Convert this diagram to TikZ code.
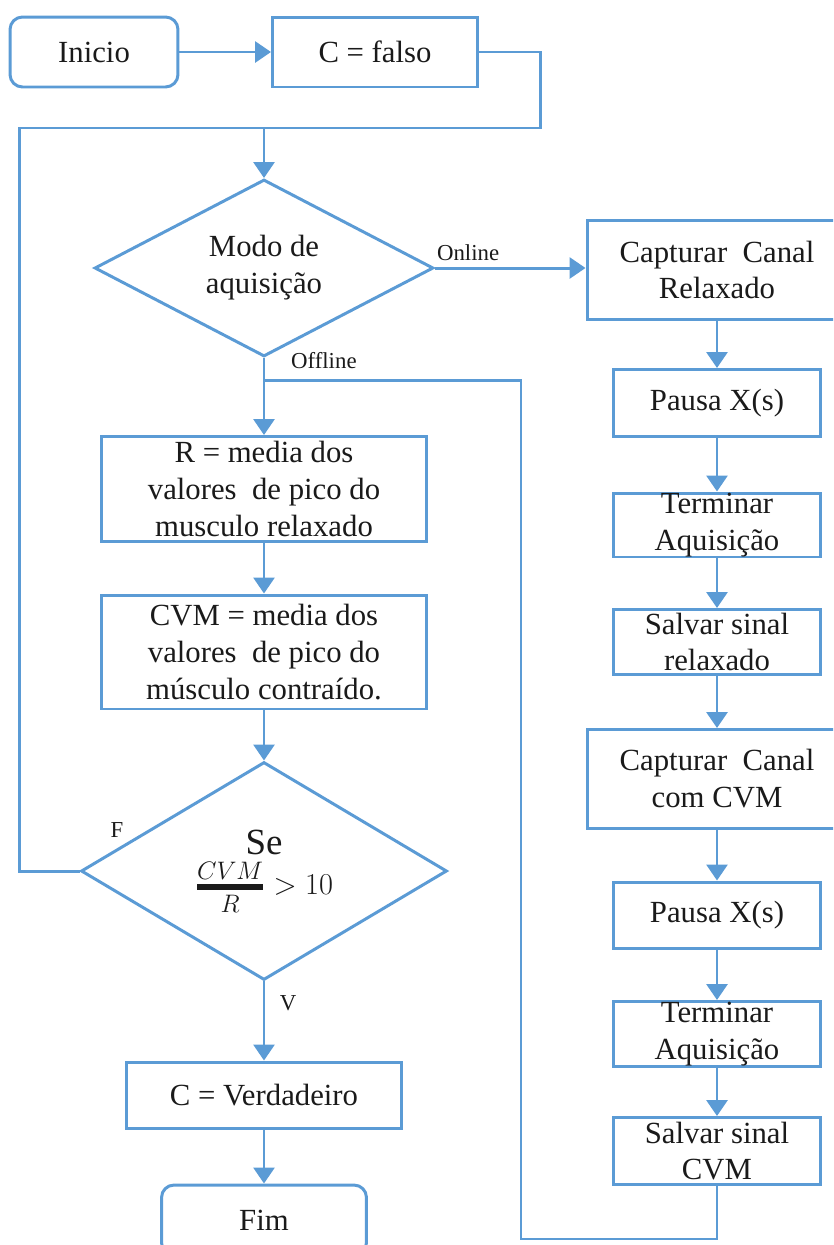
\documentclass[tikz,border=0pt]{standalone}
\usepackage{amsmath}
\usepackage{fontspec}
\setmainfont{Liberation Serif}
\usetikzlibrary{shapes.geometric,arrows.meta}
\definecolor{linhaazul}{HTML}{5B9BD5}
\definecolor{texto}{HTML}{1A1A1A}
\tikzset{
    caixa/.style={draw=linhaazul, line width=1.7pt, align=center, inner sep=0pt, text=texto, font=\fontsize{17.5}{21}\selectfont},
    terminal/.style={caixa, rounded corners=0.25cm},
    decisao/.style={caixa, diamond, aspect=1.9},
    rotulo/.style={text=texto, font=\fontsize{13}{15}\selectfont, inner sep=1pt},
    linha/.style={draw=linhaazul, line width=1.7pt},
    seta/.style={linha, -{Triangle[width=0.42cm,length=0.32cm]}},
}
\begin{document}
\begin{tikzpicture}[x=0.02cm, y=-0.02cm]
        \useasboundingbox (0,0) rectangle (833,1245);
        \clip (0,0) rectangle (833,1245);

        % coluna da esquerda
        \node[terminal, minimum width=3.36cm, minimum height=1.4cm] (inicio) at (94,52) {Inicio};
        \node[caixa, minimum width=4.1cm, minimum height=1.4cm] (falso) at (375,52) {C = falso};
        \node[decisao, minimum width=6.78cm, minimum height=3.54cm] (modo) at (264,268) {Modo de\\aquisição};
        \node[caixa, minimum width=6.5cm, minimum height=2.1cm] (mediaR) at (264,489) {R = media dos\\valores\ \ de pico do\\musculo relaxado};
        \node[caixa, minimum width=6.5cm, minimum height=2.28cm] (mediaCVM) at (264,652) {CVM = media dos\\valores\ \ de pico do\\músculo contraído.};
        \node[decisao, minimum width=7.32cm, minimum height=4.36cm] (se) at (264,871) {{\fontsize{21}{26}\selectfont Se}\\[2pt]{\fontsize{19}{22}\selectfont$\genfrac{}{}{3pt}{1}{CVM}{R}>10$}};
        \node[caixa, minimum width=5.5cm, minimum height=1.32cm] (verdadeiro) at (264,1095) {C = Verdadeiro};
        \node[terminal, minimum width=4.1cm, minimum height=1.4cm] (fim) at (264,1220) {Fim};

        % coluna da direita
        \node[caixa, minimum width=5.2cm, minimum height=1.98cm] (capRel) at (717,270) {Capturar\ \ Canal\\Relaxado};
        \node[caixa, minimum width=4.16cm, minimum height=1.34cm] (pausa1) at (717,403) {Pausa X(s)};
        \node[caixa, minimum width=4.16cm, minimum height=1.28cm] (termina1) at (717,525) {Terminar\\Aquisição};
        \node[caixa, minimum width=4.16cm, minimum height=1.3cm] (salva1) at (717,642) {Salvar sinal\\relaxado};
        \node[caixa, minimum width=5.2cm, minimum height=1.98cm] (capCVM) at (717,779) {Capturar\ \ Canal\\com CVM};
        \node[caixa, minimum width=4.16cm, minimum height=1.32cm] (pausa2) at (717,915) {Pausa X(s)};
        \node[caixa, minimum width=4.16cm, minimum height=1.3cm] (termina2) at (717,1034) {Terminar\\Aquisição};
        \node[caixa, minimum width=4.16cm, minimum height=1.34cm] (salva2) at (717,1151) {Salvar sinal\\CVM};

        % rotulos
        \node[rotulo, anchor=south west] (online) at ([yshift=0.1cm]modo.east) {Online};
        \node[rotulo, anchor=west] (offline) at ([xshift=0.5cm,yshift=-0.06cm]modo.south) {Offline};
        \node[rotulo] (rotF) at (117,830) {F};
        \node[rotulo] (rotV) at (288,1003) {V};

        \coordinate (juntaTopo) at (264,128);
        \coordinate (juntaMeio) at (264,380);
        \coordinate (volta) at (521,380);

        \draw[seta] (inicio) -- (falso);
        \draw[linha] (falso.east) -- ++(62,0) |- (juntaTopo);
        \draw[linha] (se.west) -- ++(-60,0) |- (juntaTopo);
        \draw[seta] (juntaTopo) -- (modo.north);
        \draw[seta] (modo.east) -- (modo.east -| capRel.west);
        \draw[seta] (modo.south) -- (mediaR.north);
        \draw[seta] (mediaR) -- (mediaCVM);
        \draw[seta] (mediaCVM) -- (se);
        \draw[seta] (se) -- (verdadeiro);
        \draw[seta] (verdadeiro) -- (fim);

        \draw[seta] (capRel) -- (pausa1);
        \draw[seta] (pausa1) -- (termina1);
        \draw[seta] (termina1) -- (salva1);
        \draw[seta] (salva1) -- (capCVM);
        \draw[seta] (capCVM) -- (pausa2);
        \draw[seta] (pausa2) -- (termina2);
        \draw[seta] (termina2) -- (salva2);
        \draw[linha] (salva2.south) -- ++(0,53) -| (volta) -- (juntaMeio);
    \end{tikzpicture}
\end{document}
